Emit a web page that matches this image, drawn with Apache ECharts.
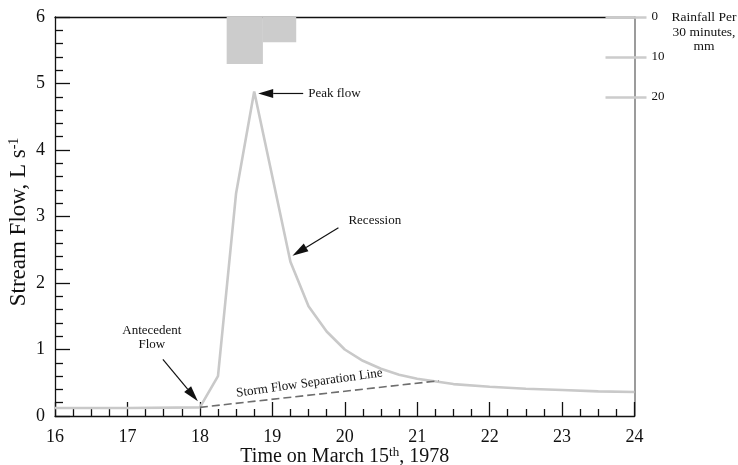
<!DOCTYPE html>
<html>
<head>
<meta charset="utf-8">
<script src="https://cdn.jsdelivr.net/npm/echarts@6/dist/echarts.min.js"></script>
<style>
  html, body { margin: 0; padding: 0; background: #fff; }
  #chart { width: 738px; height: 465px; }
</style>
</head>
<body>
<div id="chart"></div>
<script>
// Hydrograph, March 15th 1978: stream flow (L/s) against time of day (h)
const timeHours  = [16, 17, 18, 18.25, 18.5, 18.75, 19, 19.25, 19.5, 19.75, 20, 20.25, 20.5, 20.75, 21, 21.5, 22, 22.5, 23, 23.5, 24];
const streamFlow = [0.12, 0.12, 0.13, 0.6, 3.35, 4.88, 3.6, 2.32, 1.65, 1.27, 1.0, 0.83, 0.71, 0.62, 0.56, 0.48, 0.44, 0.41, 0.39, 0.37, 0.36];

// Storm flow separation line (start at rise, end where it meets the recession)
const sepTimes = [18, 21.3];
const sepFlow  = [0.13, 0.53];

// Rainfall per 30-minute interval (mm), hanging from the top axis
const rainStart = [18.37, 18.87];
const rainEnd   = [18.87, 19.33];
const rainDepth = [11.8, 6.3];

const rainTickValues = [0, 10, 20];

const serif = '"Liberation Serif", "Times New Roman", "DejaVu Serif", serif';
const ink = '#111';

const chart = echarts.init(document.getElementById('chart'), null, { renderer: 'canvas' });

const flowData = timeHours.map((t, i) => [t, streamFlow[i]]);
const sepData = sepTimes.map((t, i) => [t, sepFlow[i]]);
const rainData = rainStart.map((s, i) => [s, rainEnd[i], rainDepth[i]]);

const option = {
  animation: false,
  backgroundColor: '#fff',
  grid: { left: 55, right: 103.5, top: 17, bottom: 49, containLabel: false, outerBoundsMode: 'none' },
  xAxis: [
    {
      type: 'value', min: 16, max: 24, interval: 1, position: 'bottom',
      axisLine: { lineStyle: { color: ink, width: 1.3 } },
      axisTick: { inside: true, length: 14, lineStyle: { color: ink, width: 1.3 } },
      minorTick: { show: true, splitNumber: 4, length: 7, lineStyle: { color: ink, width: 1.3 } },
      splitLine: { show: false },
      axisLabel: { color: ink, fontFamily: serif, fontSize: 18, margin: 12 },
      name: 'Time on March 15{sup|th}, 1978',
      nameLocation: 'middle', nameGap: 30, nameMoveOverlap: false,
      nameTextStyle: {
        color: ink, fontFamily: serif, fontSize: 20, lineHeight: 22,
        rich: { sup: { fontFamily: serif, fontSize: 13, verticalAlign: 'top', lineHeight: 22, color: ink } }
      }
    },
    {
      type: 'value', min: 16, max: 24, position: 'top',
      axisLine: { lineStyle: { color: ink, width: 1.3 } },
      axisTick: { show: false }, axisLabel: { show: false }, splitLine: { show: false }
    }
  ],
  yAxis: [
    {
      type: 'value', min: 0, max: 6, interval: 1, position: 'left',
      axisLine: { show: true, lineStyle: { color: ink, width: 1.3 } },
      axisTick: { inside: true, length: 15, lineStyle: { color: ink, width: 1.3 } },
      minorTick: { show: true, splitNumber: 5, length: 8, lineStyle: { color: ink, width: 1.3 } },
      splitLine: { show: false },
      axisLabel: { color: ink, fontFamily: serif, fontSize: 18, margin: 10 },
      name: 'Stream Flow, L s{sup|-1}',
      nameLocation: 'middle', nameGap: 24, nameRotate: 90, nameMoveOverlap: false,
      nameTextStyle: {
        color: ink, fontFamily: serif, fontSize: 23, lineHeight: 24, padding: [0, 11, 0, 0],
        rich: { sup: { fontFamily: serif, fontSize: 14, verticalAlign: 'top', lineHeight: 24, color: ink } }
      }
    },
    {
      // rainfall scale, labels and outer half of the ticks
      type: 'value', min: 0, max: 100, inverse: true, position: 'right',
      axisLine: { show: true, lineStyle: { color: '#7a7a7a', width: 1.5 } },
      axisTick: { show: true, inside: false, length: 12, customValues: rainTickValues,
                  lineStyle: { color: '#cccccc', width: 2.5 } },
      axisLabel: { show: true, customValues: rainTickValues, color: ink, fontFamily: serif,
                   fontSize: 13, margin: 17 },
      splitLine: { show: false }
    },
    {
      // inner half of the rainfall ticks
      type: 'value', min: 0, max: 100, inverse: true, position: 'right',
      axisLine: { show: false },
      axisTick: { show: true, inside: true, length: 29, customValues: rainTickValues,
                  lineStyle: { color: '#cccccc', width: 2.5 } },
      axisLabel: { show: false },
      splitLine: { show: false }
    }
  ],
  series: [
    {
      name: 'Rainfall', type: 'custom', xAxisIndex: 0, yAxisIndex: 1, z: 1,
      data: rainData,
      encode: { x: [0, 1], y: 2 },
      renderItem: function (params, api) {
        const p0 = api.coord([api.value(0), 0]);
        const p1 = api.coord([api.value(1), api.value(2)]);
        return {
          type: 'rect',
          shape: { x: p0[0], y: p0[1], width: p1[0] - p0[0], height: p1[1] - p0[1] },
          style: { fill: '#cccccc' }
        };
      }
    },
    {
      name: 'Stream flow', type: 'line', data: flowData, symbol: 'none', z: 3,
      lineStyle: { color: '#c9c9c9', width: 2.6 }
    },
    {
      name: 'Storm flow separation', type: 'line', data: sepData, symbol: 'none', z: 4,
      lineStyle: { color: '#6e6e6e', width: 1.6, type: [8, 4] }
    }
  ]
};

chart.setOption(option);

// Annotations, anchored to the data points they describe
function arrow(tail, tip, head, halfW) {
  const dx = tip[0] - tail[0], dy = tip[1] - tail[1];
  const len = Math.hypot(dx, dy);
  const ux = dx / len, uy = dy / len;
  const bx = tip[0] - ux * head, by = tip[1] - uy * head;
  return [
    { type: 'line', shape: { x1: tail[0], y1: tail[1], x2: bx, y2: by },
      style: { stroke: ink, lineWidth: 1.2 }, z: 10 },
    { type: 'polygon', shape: { points: [tip, [bx - uy * halfW, by + ux * halfW], [bx + uy * halfW, by - ux * halfW]] },
      style: { fill: ink }, z: 10 }
  ];
}
function px(t, v) { return chart.convertToPixel({ xAxisIndex: 0, yAxisIndex: 0 }, [t, v]); }

const peakIdx = streamFlow.indexOf(Math.max.apply(null, streamFlow));
const peak = px(timeHours[peakIdx], streamFlow[peakIdx]);
const rec = px(timeHours[peakIdx + 2], streamFlow[peakIdx + 2]);
const ante = px(sepTimes[0], sepFlow[0]);
const sepA = px(sepTimes[0], sepFlow[0]);
const sepB = px(sepTimes[1], sepFlow[1]);
// label sits slightly steeper than the dashed line itself
const sepAngle = Math.atan2(sepA[1] - sepB[1], sepB[0] - sepA[0]) + 1.6 * Math.PI / 180;

const labelStyle = { fontFamily: serif, fontSize: 13, fill: ink };
const graphics = [].concat(
  arrow([peak[0] + 49, peak[1] + 2], [peak[0] + 4, peak[1] + 2], 15, 4.5),
  [{ type: 'text', x: peak[0] + 54, y: peak[1] + 2, z: 10,
     style: Object.assign({ text: 'Peak flow', verticalAlign: 'middle', align: 'left' }, labelStyle) }],
  arrow([rec[0] + 48, rec[1] - 34], [rec[0] + 2, rec[1] - 6], 16, 4.5),
  [{ type: 'text', x: rec[0] + 58, y: rec[1] - 41, z: 10,
     style: Object.assign({ text: 'Recession', verticalAlign: 'middle', align: 'left' }, labelStyle) }],
  arrow([ante[0] - 37, ante[1] - 48], [ante[0] - 2, ante[1] - 6], 16, 4.5),
  [{ type: 'text', x: ante[0] - 48, y: ante[1] - 70, z: 10,
     style: Object.assign({ text: 'Antecedent\nFlow', verticalAlign: 'middle', align: 'center', lineHeight: 14 }, labelStyle) }],
  [{ type: 'text', x: (sepA[0] + sepB[0]) / 2 - 10, y: (sepA[1] + sepB[1]) / 2 - 11, rotation: sepAngle, z: 10,
     style: Object.assign({ text: 'Storm Flow Separation Line', verticalAlign: 'middle', align: 'center' }, labelStyle) }],
  [{ type: 'text', x: 704, y: 32, z: 10,
     style: Object.assign({ text: 'Rainfall Per\n30 minutes,\nmm', verticalAlign: 'middle', align: 'center', lineHeight: 14.5 },
                          labelStyle, { fontSize: 13.5 }) }]
);
chart.setOption({ graphic: graphics });
</script>
</body>
</html>
